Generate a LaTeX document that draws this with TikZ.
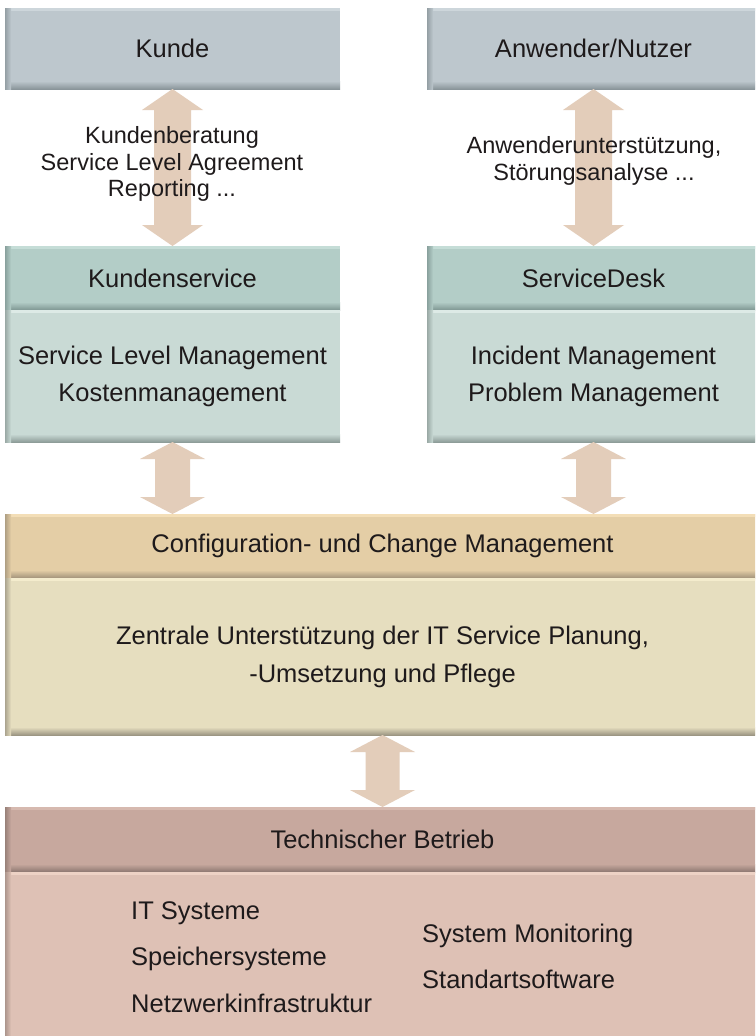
\documentclass[tikz,border=0pt]{standalone}
\usepackage{fontspec}
\setmainfont{Liberation Sans}
\usetikzlibrary{calc}
\definecolor{txt}{HTML}{1E1A1B}
\definecolor{kuF}{HTML}{BDC7CD}\definecolor{kuD}{HTML}{8A959A}\definecolor{kuL}{HTML}{CDD6DB}
\definecolor{thF}{HTML}{B3CDC7}\definecolor{thD}{HTML}{7E9692}\definecolor{thL}{HTML}{C5DDD7}
\definecolor{tbF}{HTML}{C9DAD5}\definecolor{tbD}{HTML}{8E9D99}\definecolor{tbL}{HTML}{DDEAE6}
\definecolor{chF}{HTML}{E4CEA6}\definecolor{chD}{HTML}{A2937A}\definecolor{chL}{HTML}{F3DEB7}
\definecolor{cbF}{HTML}{E6DEBF}\definecolor{cbD}{HTML}{9C9683}\definecolor{cbL}{HTML}{F4ECCD}
\definecolor{rhF}{HTML}{C7A89E}\definecolor{rhD}{HTML}{8C7770}\definecolor{rhL}{HTML}{D6B9AF}
\definecolor{rbF}{HTML}{DEC1B5}\definecolor{rbD}{HTML}{A08B83}\definecolor{rbL}{HTML}{EDD2C5}
\definecolor{arr}{HTML}{E3CDBA}
\newcommand\boxfont{\fontsize{25.5}{37}\selectfont}
\newcommand\lblfont{\fontsize{23.5}{26.5}\selectfont}
\newcommand\dbarrow[5]{% #1 top, #2 bottom, #3 head half, #4 shaft half, #5 head length
  \fill[arr] (#1) -- ($(#1)+(#3,#5)$) -- ($(#1)+(#4,#5)$) -- ($(#2)+(#4,-#5)$) -- ($(#2)+(#3,-#5)$)
   -- (#2) -- ($(#2)+(-#3,-#5)$) -- ($(#2)+(-#4,-#5)$) -- ($(#1)+(-#4,#5)$) -- ($(#1)+(-#3,#5)$) -- cycle;}
\tikzset{
  panel/.style n args={3}{rectangle, inner sep=0pt, outer sep=0pt, anchor=north west,
    fill=#1, text=txt, font=\boxfont, align=center,
    path picture={
      \fill[#3] (path picture bounding box.north west) rectangle ([yshift=-3pt]path picture bounding box.north east);
      \shade[top color=#1, bottom color=#2] ([yshift=8pt]path picture bounding box.south west) rectangle (path picture bounding box.south east);
      \shade[left color=#2!80!#1, right color=#1] (path picture bounding box.north west) rectangle ([xshift=6pt]path picture bounding box.south west);
    }},
  lbl/.style={inner sep=0pt, text=txt, font=\lblfont, align=center},
  item/.style={inner sep=0pt, text=txt, font=\boxfont, anchor=base west},
}
\begin{document}
\begin{tikzpicture}[x=1pt, y=-1pt]
\useasboundingbox (0,0) rectangle (755,1036);
\clip (0,0) rectangle (755,1036);
\fill[white] (0,0) rectangle (755,1036);
% top boxes
\node[panel={kuF}{kuD}{kuL}, minimum width=335pt, minimum height=81pt] (kunde) at (5,8) {Kunde};
\node[panel={kuF}{kuD}{kuL}, minimum width=333pt, minimum height=81pt] (anw) at (427,8) {Anwender/Nutzer};
% service boxes
\node[panel={thF}{thD}{thL}, minimum width=335pt, minimum height=64pt] (ks) at (5,246) {Kundenservice};
\node[panel={tbF}{tbD}{tbL}, minimum width=335pt, minimum height=132pt] (ksb) at (5,310) {Service Level Management\\Kostenmanagement};
\node[panel={thF}{thD}{thL}, minimum width=333pt, minimum height=64pt] (sd) at (427,246) {ServiceDesk};
\node[panel={tbF}{tbD}{tbL}, minimum width=333pt, minimum height=132pt] (sdb) at (427,310) {Incident Management\\Problem Management};
% configuration
\node[panel={chF}{chD}{chL}, minimum width=755pt, minimum height=64pt] (cfg) at (5,514) {Configuration- und Change Management};
\node[panel={cbF}{cbD}{cbL}, minimum width=755pt, minimum height=157pt] (cfgb) at (5,578) {Zentrale Unterstützung der IT Service Planung,\\[1pt]-Umsetzung und Pflege};
% technical
\node[panel={rhF}{rhD}{rhL}, minimum width=755pt, minimum height=65pt] (tech) at (5,807) {Technischer Betrieb};
\node[panel={rbF}{rbD}{rbL}, minimum width=755pt, minimum height=174pt] (techb) at (5,872) {};
% arrows
\coordinate (a1) at (ksb.south |- cfg.north);
\coordinate (a2) at (sdb.south |- cfg.north);
\dbarrow{kunde.south}{ks.north}{30.5}{18.5}{21}
\dbarrow{anw.south}{sd.north}{30.5}{18.5}{21}
\dbarrow{ksb.south}{a1}{32.5}{17.5}{17}
\dbarrow{sdb.south}{a2}{32.5}{17.5}{17}
\dbarrow{cfgb.south}{tech.north}{32.5}{17}{17}
% labels
\node[lbl] (l1) at (172,164) {Kundenberatung\\Service Level Agreement\\Reporting ...};
\node[lbl] (l2) at (594,161) {Anwenderunterstützung,\\Störungsanalyse ...};
% technical items
\node[item] (t1) at (131,919) {IT Systeme};
\node[item] (t2) at (131,965) {Speichersysteme};
\node[item] (t3) at (131,1012) {Netzwerkinfrastruktur};
\node[item] (t4) at (422,942) {System Monitoring};
\node[item] (t5) at (422,988) {Standartsoftware};
\end{tikzpicture}
\end{document}
